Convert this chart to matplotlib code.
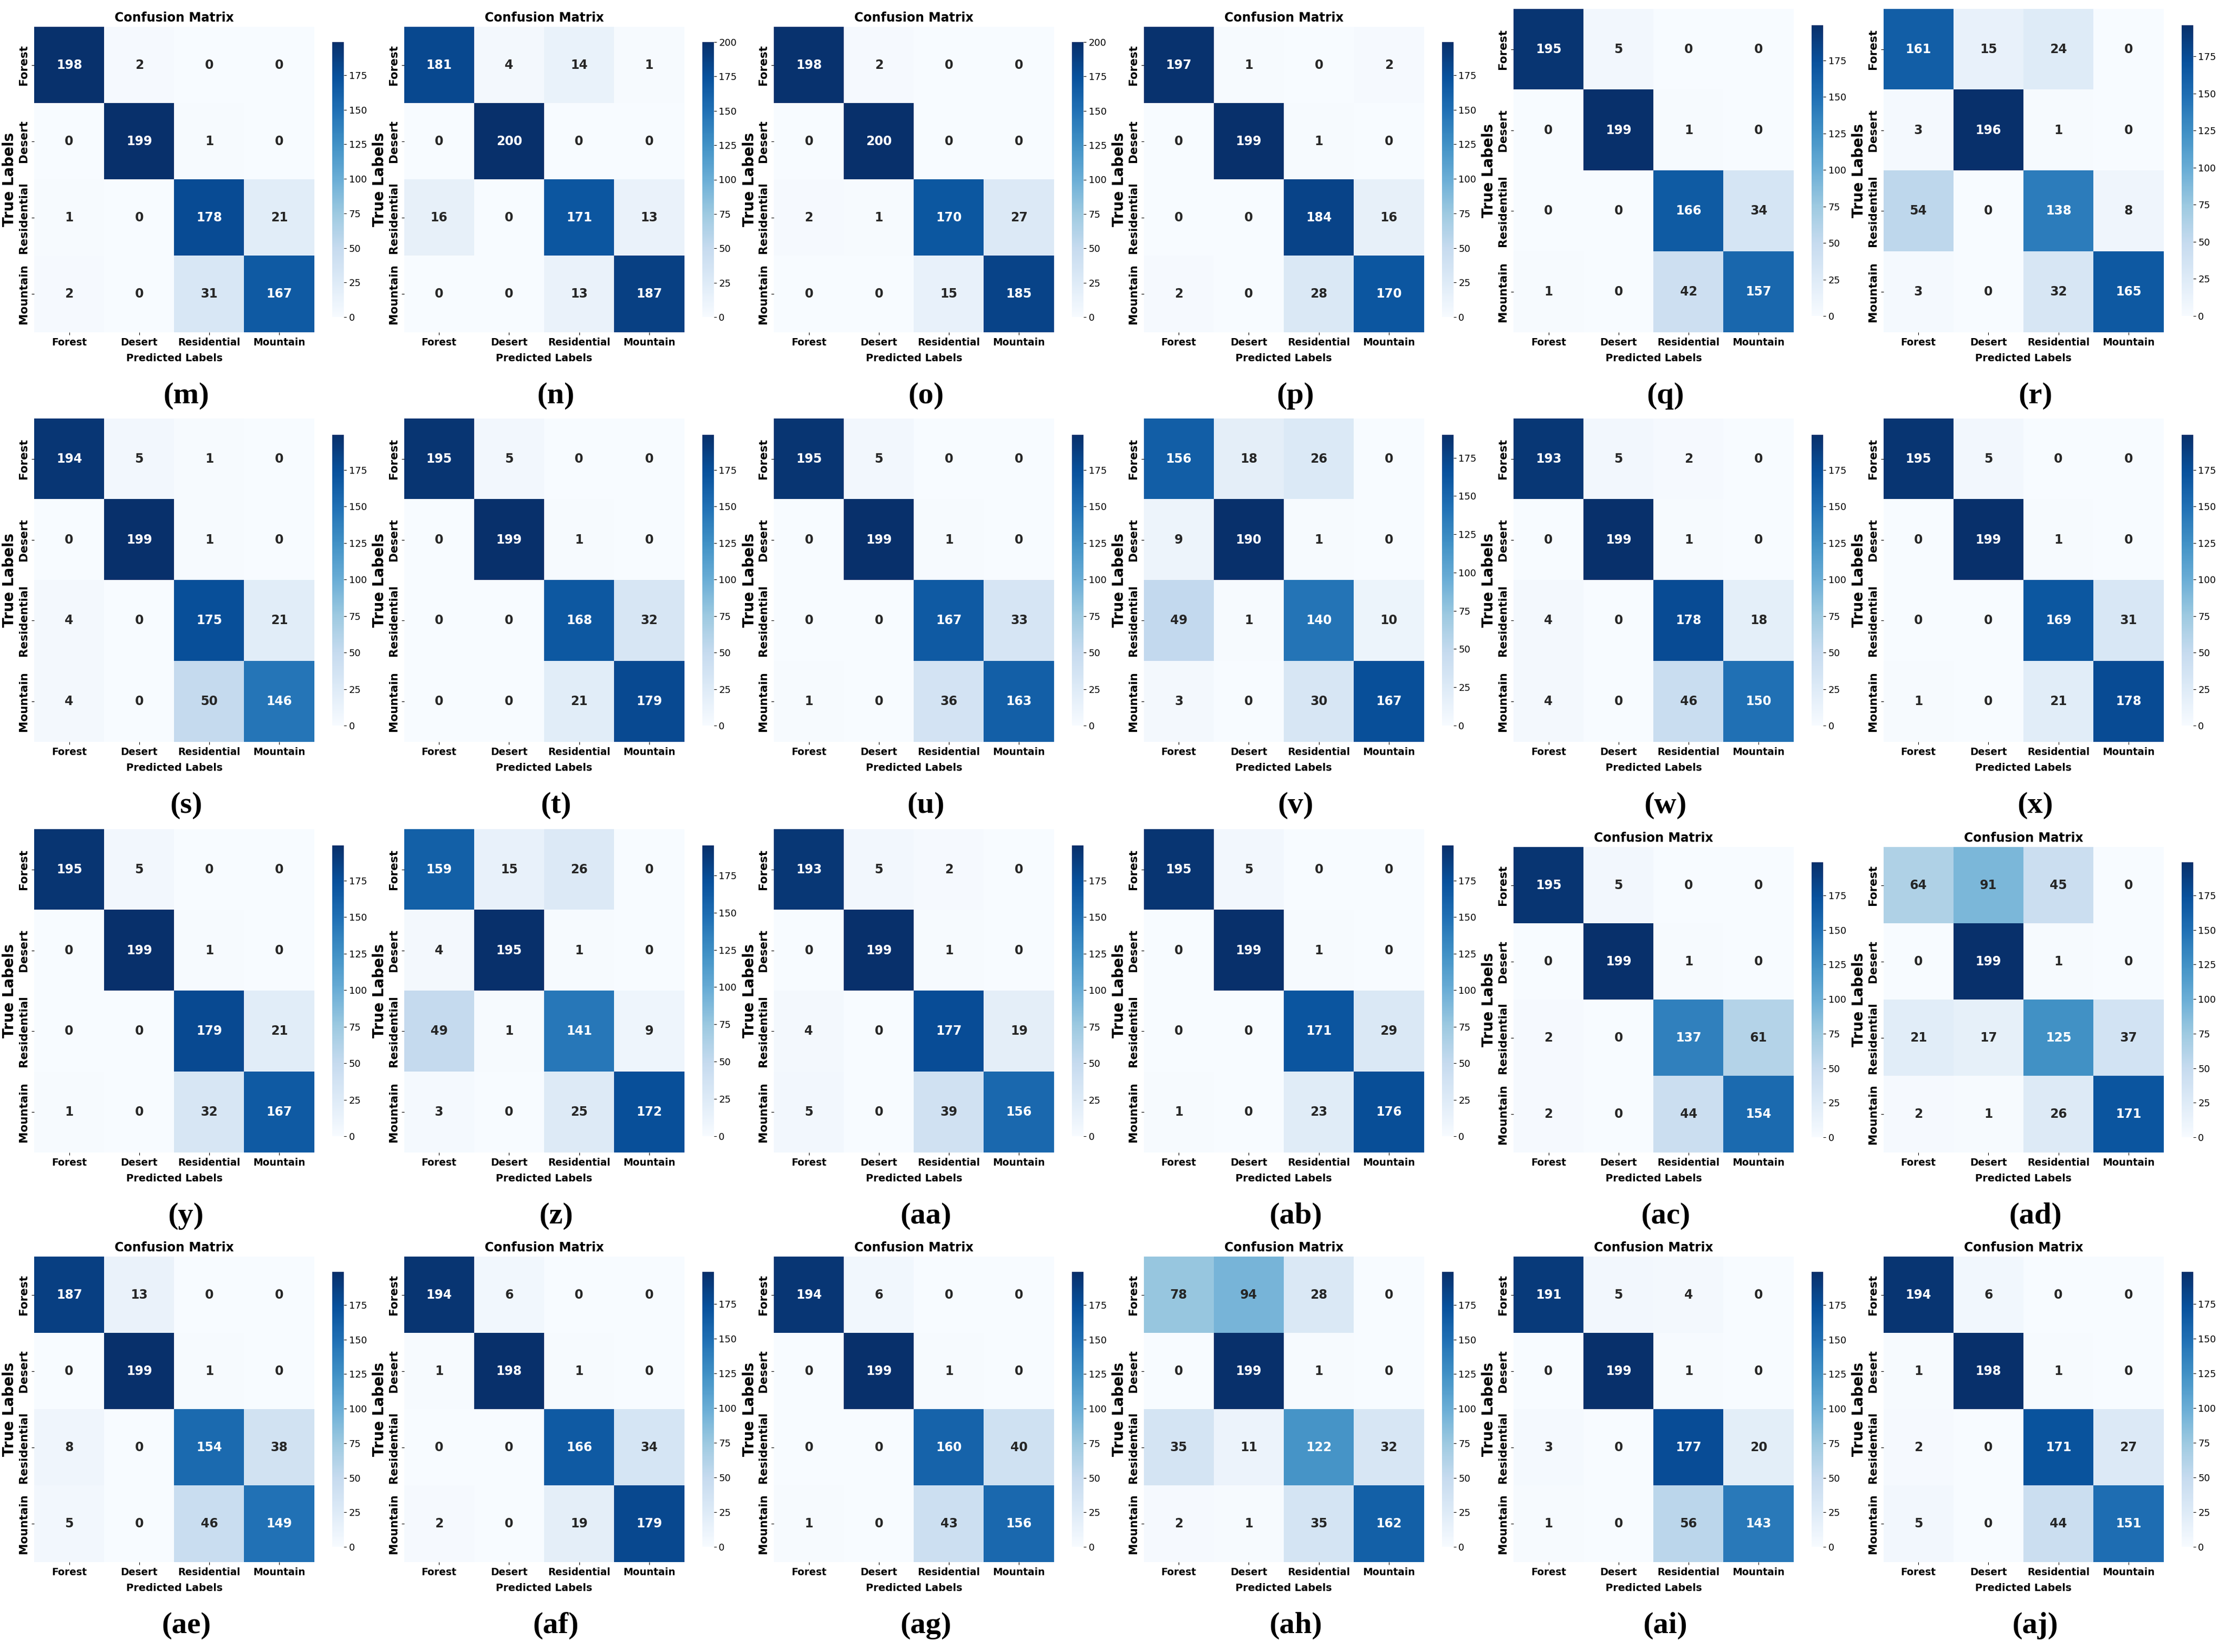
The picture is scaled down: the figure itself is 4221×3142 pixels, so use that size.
import numpy as np
import matplotlib
matplotlib.use("Agg")
import matplotlib.pyplot as plt
from matplotlib import colors

classes = ["Forest", "Desert", "Residential", "Mountain"]

cm_m = [[198, 2, 0, 0], [0, 199, 1, 0], [1, 0, 178, 21], [2, 0, 31, 167]]
cm_n = [[181, 4, 14, 1], [0, 200, 0, 0], [16, 0, 171, 13], [0, 0, 13, 187]]
cm_o = [[198, 2, 0, 0], [0, 200, 0, 0], [2, 1, 170, 27], [0, 0, 15, 185]]
cm_p = [[197, 1, 0, 2], [0, 199, 1, 0], [0, 0, 184, 16], [2, 0, 28, 170]]
cm_q = [[195, 5, 0, 0], [0, 199, 1, 0], [0, 0, 166, 34], [1, 0, 42, 157]]
cm_r = [[161, 15, 24, 0], [3, 196, 1, 0], [54, 0, 138, 8], [3, 0, 32, 165]]
cm_s = [[194, 5, 1, 0], [0, 199, 1, 0], [4, 0, 175, 21], [4, 0, 50, 146]]
cm_t = [[195, 5, 0, 0], [0, 199, 1, 0], [0, 0, 168, 32], [0, 0, 21, 179]]
cm_u = [[195, 5, 0, 0], [0, 199, 1, 0], [0, 0, 167, 33], [1, 0, 36, 163]]
cm_v = [[156, 18, 26, 0], [9, 190, 1, 0], [49, 1, 140, 10], [3, 0, 30, 167]]
cm_w = [[193, 5, 2, 0], [0, 199, 1, 0], [4, 0, 178, 18], [4, 0, 46, 150]]
cm_x = [[195, 5, 0, 0], [0, 199, 1, 0], [0, 0, 169, 31], [1, 0, 21, 178]]
cm_y = [[195, 5, 0, 0], [0, 199, 1, 0], [0, 0, 179, 21], [1, 0, 32, 167]]
cm_z = [[159, 15, 26, 0], [4, 195, 1, 0], [49, 1, 141, 9], [3, 0, 25, 172]]
cm_aa = [[193, 5, 2, 0], [0, 199, 1, 0], [4, 0, 177, 19], [5, 0, 39, 156]]
cm_ab = [[195, 5, 0, 0], [0, 199, 1, 0], [0, 0, 171, 29], [1, 0, 23, 176]]
cm_ac = [[195, 5, 0, 0], [0, 199, 1, 0], [2, 0, 137, 61], [2, 0, 44, 154]]
cm_ad = [[64, 91, 45, 0], [0, 199, 1, 0], [21, 17, 125, 37], [2, 1, 26, 171]]
cm_ae = [[187, 13, 0, 0], [0, 199, 1, 0], [8, 0, 154, 38], [5, 0, 46, 149]]
cm_af = [[194, 6, 0, 0], [1, 198, 1, 0], [0, 0, 166, 34], [2, 0, 19, 179]]
cm_ag = [[194, 6, 0, 0], [0, 199, 1, 0], [0, 0, 160, 40], [1, 0, 43, 156]]
cm_ah = [[78, 94, 28, 0], [0, 199, 1, 0], [35, 11, 122, 32], [2, 1, 35, 162]]
cm_ai = [[191, 5, 4, 0], [0, 199, 1, 0], [3, 0, 177, 20], [1, 0, 56, 143]]
cm_aj = [[194, 6, 0, 0], [1, 198, 1, 0], [2, 0, 171, 27], [5, 0, 44, 151]]

panel_names = ["m", "n", "o", "p", "q", "r",
               "s", "t", "u", "v", "w", "x",
               "y", "z", "aa", "ab", "ac", "ad",
               "ae", "af", "ag", "ah", "ai", "aj"]
matrices = [cm_m, cm_n, cm_o, cm_p, cm_q, cm_r,
            cm_s, cm_t, cm_u, cm_v, cm_w, cm_x,
            cm_y, cm_z, cm_aa, cm_ab, cm_ac, cm_ad,
            cm_ae, cm_af, cm_ag, cm_ah, cm_ai, cm_aj]
titled = ["m", "n", "o", "p", "ac", "ad", "ae", "af", "ag", "ah", "ai", "aj"]

W, H = 4221, 3142
fig = plt.figure(figsize=(W / 100, H / 100), dpi=100)
cmap = plt.get_cmap("Blues")

row_bottom = [632, 1411, 2192, 2971]
col_w = W / 6


def box(x0, y0, x1, y1):
    return [x0 / W, 1 - y1 / H, (x1 - x0) / W, (y1 - y0) / H]


def text_color(rgba):
    # same rule seaborn uses for annotations
    rgb = np.array(rgba[:3])
    lin = np.where(rgb <= 0.03928, rgb / 12.92, ((rgb + 0.055) / 1.055) ** 2.4)
    lum = lin @ np.array([0.2126, 0.7152, 0.0722])
    return "#262626" if lum > 0.408 else "white"


for k, (name, cm) in enumerate(zip(panel_names, matrices)):
    r, c = divmod(k, 6)
    cm = np.array(cm)
    x0 = c * col_w
    bot = row_bottom[r]
    has_title = name in titled
    top = bot - (581 if has_title else 615)

    ax = fig.add_axes(box(x0 + 65, top, x0 + 598, bot))
    norm = colors.Normalize(cm.min(), cm.max())
    im = ax.imshow(cm, cmap=cmap, norm=norm, aspect="auto", interpolation="nearest")
    for i in range(4):
        for j in range(4):
            ax.text(j, i, str(cm[i, j]), ha="center", va="center",
                    fontsize=17, fontweight="bold",
                    color=text_color(cmap(norm(cm[i, j]))))
    ax.set_xticks(range(4))
    ax.set_xticklabels(classes, fontsize=13.5, fontweight="bold")
    ax.set_yticks(range(4))
    ax.set_yticklabels(classes, fontsize=15.5, fontweight="bold", rotation=90, va="center")
    ax.set_xlabel("Predicted Labels", fontsize=14, fontweight="bold", labelpad=8)
    ax.set_ylabel("True Labels", fontsize=20, fontweight="bold", labelpad=2)
    if has_title:
        ax.set_title("Confusion Matrix", fontsize=17, fontweight="bold", pad=7)
    for s in ax.spines.values():
        s.set_visible(False)

    pad = 29 if has_title else 31
    cax = fig.add_axes(box(x0 + 632, top + pad, x0 + 654, bot - pad))
    cb = fig.colorbar(im, cax=cax, ticks=np.arange(0, cm.max() + 1, 25))
    cb.outline.set_visible(False)
    cax.tick_params(labelsize=13)

    fig.text((x0 + 354) / W, 1 - (bot + 121) / H, f"({name})", ha="center", va="center",
             fontsize=42, fontweight="bold", family="Liberation Serif")

fig.savefig("out.png", dpi=100)
